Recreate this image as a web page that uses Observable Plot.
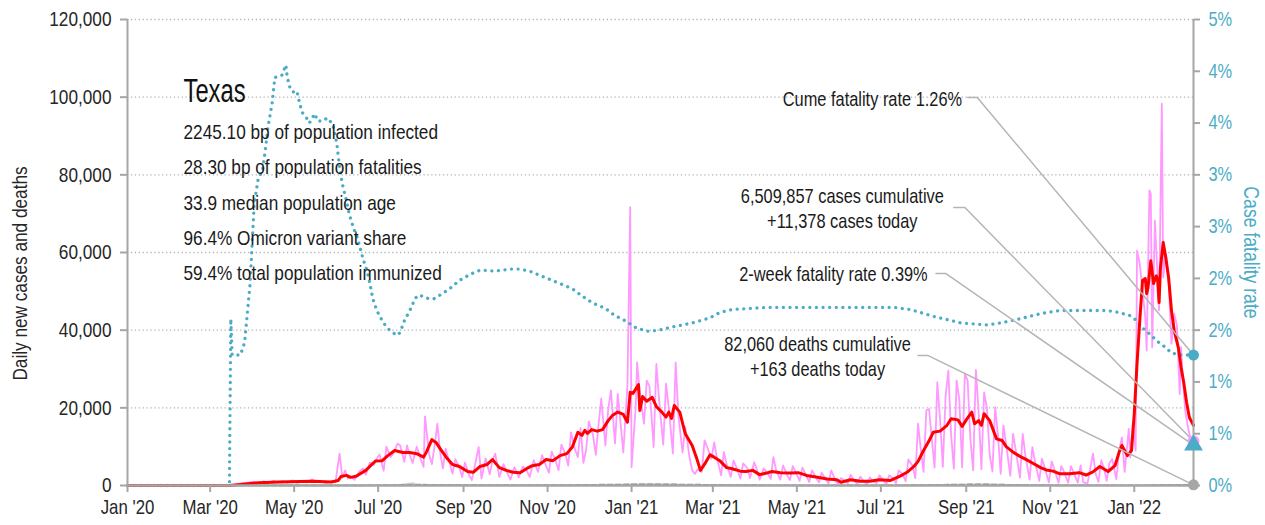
<!DOCTYPE html>
<html><head><meta charset="utf-8">
<script src="https://cdn.jsdelivr.net/npm/d3@7"></script>
<script src="https://cdn.jsdelivr.net/npm/@observablehq/plot@0.6"></script>
<style>
html,body{margin:0;padding:0;background:#fff;}
#chart{width:1265px;height:525px;overflow:hidden;}
</style></head>
<body><div id="chart"></div>
<script>
const FONT = "'Liberation Sans',Arial,sans-serif";
const NARROW = 0.82;      // horizontal squeeze to imitate a narrow face
const TITLE_NARROW = 0.7; // the state name uses an even narrower face
const TEAL = "#4bacc6", PINK = "#ff99ff", RED = "#ff0000", AXIS = "#a6a6a6";

// ---------- data ----------
const stateName = "Texas";
const infoLines = [
  "2245.10 bp of population infected",
  "28.30 bp of population fatalities",
  "33.9 median population age",
  "96.4% Omicron variant share",
  "59.4% total population immunized"
];
const yTicks = [0, 20000, 40000, 60000, 80000, 100000, 120000];
const rateTicks = [0, 0.5, 1, 1.5, 2, 2.5, 3, 3.5, 4, 4.5];
const rateTickLabels = ["0%","1%","1%","2%","2%","3%","3%","4%","4%","5%"];
const xTickDates = ["2020-01-01","2020-03-01","2020-05-01","2020-07-01","2020-09-01","2020-11-01",
  "2021-01-01","2021-03-01","2021-05-01","2021-07-01","2021-09-01","2021-11-01","2022-01-01"];
const startDate = "2020-01-01";
const lastDate = "2022-02-13";

const cumCases = 6509857, casesToday = 11378;
const cumDeaths = 82060, deathsToday = 163;
const cumeCfr = 1.26, twoWeekCfr = 0.39;

const casesDaily = [
["2020-01-01",0],["2020-03-04",0],["2020-03-12",20],["2020-03-18",150],["2020-03-22",400],["2020-03-26",700],["2020-03-29",800],
["2020-04-02",1000],["2020-04-05",600],["2020-04-09",1100],["2020-04-12",700],["2020-04-16",1200],["2020-04-19",800],["2020-04-23",1100],
["2020-04-26",700],["2020-04-30",1300],["2020-05-03",700],["2020-05-07",1200],["2020-05-10",800],["2020-05-14",1600],["2020-05-17",900],
["2020-05-21",1100],["2020-05-24",600],["2020-05-28",1100],["2020-05-31",900],["2020-06-03",8200],["2020-06-05",2000],["2020-06-07",3900],
["2020-06-09",1800],["2020-06-11",2300],["2020-06-14",1500],["2020-06-17",3500],["2020-06-20",4400],["2020-06-22",2800],["2020-06-25",5900],
["2020-06-28",5300],["2020-06-30",6900],["2020-07-02",8000],["2020-07-05",3800],["2020-07-07",10000],["2020-07-10",7300],["2020-07-12",8200],
["2020-07-15",10800],["2020-07-17",10300],["2020-07-20",6100],["2020-07-22",10300],["2020-07-24",7800],["2020-07-26",5800],["2020-07-29",10000],
["2020-08-01",6700],["2020-08-03",4800],["2020-08-04",17800],["2020-08-07",8000],["2020-08-09",5500],["2020-08-11",10200],["2020-08-13",15900],
["2020-08-15",8500],["2020-08-17",4400],["2020-08-19",9500],["2020-08-22",5600],["2020-08-24",3100],["2020-08-26",6800],["2020-08-29",4600],
["2020-08-31",2200],["2020-09-02",5900],["2020-09-05",2700],["2020-09-07",1400],["2020-09-09",4800],["2020-09-12",9900],["2020-09-14",1800],
["2020-09-17",7000],["2020-09-20",2900],["2020-09-22",6400],["2020-09-24",8200],["2020-09-27",2200],["2020-09-30",5500],["2020-10-03",3000],
["2020-10-05",1500],["2020-10-08",4700],["2020-10-11",2100],["2020-10-14",4900],["2020-10-17",3800],["2020-10-19",2200],["2020-10-22",6500],
["2020-10-25",3500],["2020-10-28",7800],["2020-10-31",5000],["2020-11-02",3300],["2020-11-04",8700],["2020-11-07",6200],["2020-11-09",3900],
["2020-11-11",10500],["2020-11-14",8100],["2020-11-16",5100],["2020-11-18",13700],["2020-11-21",9200],["2020-11-23",7300],["2020-11-25",14800],
["2020-11-27",5800],["2020-11-29",9200],["2020-12-01",16500],["2020-12-04",13000],["2020-12-06",7900],["2020-12-08",15600],["2020-12-10",22400],
["2020-12-13",10300],["2020-12-15",19500],["2020-12-17",24500],["2020-12-20",10800],["2020-12-22",23600],["2020-12-24",16000],["2020-12-26",8500],
["2020-12-29",26000],["2020-12-31",71700],["2021-01-01",4700],["2021-01-04",20200],["2021-01-05",31700],["2021-01-07",24000],["2021-01-10",15900],
["2021-01-12",27000],["2021-01-14",25500],["2021-01-17",9900],["2021-01-19",31300],["2021-01-21",22000],["2021-01-24",10500],["2021-01-26",26200],
["2021-01-28",20000],["2021-01-31",8200],["2021-02-02",31700],["2021-02-04",18000],["2021-02-07",8500],["2021-02-09",15000],["2021-02-12",7400],
["2021-02-14",3900],["2021-02-16",3000],["2021-02-18",4200],["2021-02-21",3500],["2021-02-23",11600],["2021-02-25",9800],["2021-02-28",6900],
["2021-03-02",11100],["2021-03-04",7000],["2021-03-07",2600],["2021-03-09",8600],["2021-03-11",5500],["2021-03-14",2200],["2021-03-16",6400],
["2021-03-18",4800],["2021-03-21",1800],["2021-03-23",5700],["2021-03-26",4500],["2021-03-28",1900],["2021-03-31",6000],["2021-04-02",4100],
["2021-04-04",1500],["2021-04-07",4400],["2021-04-10",3000],["2021-04-12",1700],["2021-04-14",7300],["2021-04-16",3900],["2021-04-19",1500],
["2021-04-21",5200],["2021-04-24",2600],["2021-04-26",1400],["2021-04-28",5000],["2021-05-01",2800],["2021-05-03",1200],["2021-05-05",4600],
["2021-05-08",2400],["2021-05-10",900],["2021-05-12",3900],["2021-05-15",2000],["2021-05-17",800],["2021-05-19",3300],["2021-05-22",1600],
["2021-05-24",500],["2021-05-26",3900],["2021-05-29",1200],["2021-05-31",400],["2021-06-02",1900],["2021-06-05",1200],["2021-06-07",500],
["2021-06-09",2800],["2021-06-12",1000],["2021-06-14",400],["2021-06-16",2300],["2021-06-19",900],["2021-06-21",400],["2021-06-23",2100],
["2021-06-26",900],["2021-06-28",600],["2021-06-30",2600],["2021-07-03",1200],["2021-07-05",300],["2021-07-07",2600],["2021-07-10",1800],
["2021-07-12",600],["2021-07-14",3900],["2021-07-17",2800],["2021-07-19",1100],["2021-07-21",6700],["2021-07-24",5000],["2021-07-26",1900],
["2021-07-28",15900],["2021-07-30",9300],["2021-08-01",3500],["2021-08-03",19300],["2021-08-05",19700],["2021-08-07",12000],["2021-08-09",4600],
["2021-08-11",26600],["2021-08-13",17000],["2021-08-15",4800],["2021-08-17",23000],["2021-08-19",29600],["2021-08-21",13000],["2021-08-23",4300],
["2021-08-25",27000],["2021-08-27",22000],["2021-08-29",4700],["2021-08-31",28800],["2021-09-02",27000],["2021-09-04",12000],["2021-09-06",3900],
["2021-09-08",29800],["2021-09-10",19000],["2021-09-12",4200],["2021-09-14",24000],["2021-09-16",20000],["2021-09-18",8000],["2021-09-20",3600],
["2021-09-22",20200],["2021-09-24",13000],["2021-09-26",3000],["2021-09-28",15500],["2021-09-30",10500],["2021-10-03",2500],["2021-10-05",13300],
["2021-10-07",9000],["2021-10-10",2000],["2021-10-12",13300],["2021-10-14",7500],["2021-10-17",1500],["2021-10-19",9900],["2021-10-21",6000],
["2021-10-24",1200],["2021-10-26",6900],["2021-10-28",4600],["2021-10-31",800],["2021-11-02",6200],["2021-11-04",4200],["2021-11-07",700],
["2021-11-09",5000],["2021-11-11",3500],["2021-11-14",700],["2021-11-16",5000],["2021-11-18",3300],["2021-11-21",700],["2021-11-23",5200],
["2021-11-25",800],["2021-11-28",500],["2021-12-02",8200],["2021-12-04",3000],["2021-12-06",900],["2021-12-08",6500],["2021-12-10",4500],
["2021-12-12",1200],["2021-12-14",5800],["2021-12-16",6800],["2021-12-19",1600],["2021-12-21",9000],["2021-12-23",12400],["2021-12-25",3500],
["2021-12-28",14600],["2021-12-29",7200],["2021-12-31",16000],["2022-01-02",9000],["2022-01-03",60500],["2022-01-05",57000],["2022-01-06",53600],
["2022-01-09",43300],["2022-01-10",34800],["2022-01-12",76000],["2022-01-13",75100],["2022-01-14",35600],["2022-01-16",68200],["2022-01-18",52800],
["2022-01-19",45100],["2022-01-21",98300],["2022-01-22",53600],["2022-01-24",59700],["2022-01-26",51900],["2022-01-28",36500],["2022-01-30",44200],
["2022-02-01",41200],["2022-02-03",23600],["2022-02-04",35600],["2022-02-05",28800],["2022-02-07",19300],["2022-02-09",15000],["2022-02-11",11600],
["2022-02-13",11378]
];

const casesAvg = [
["2020-01-01",0],["2020-03-05",0],["2020-03-15",10],["2020-03-25",300],["2020-04-05",700],["2020-04-20",900],["2020-05-05",1000],["2020-05-15",1100],
["2020-05-28",900],["2020-06-02",1300],["2020-06-04",2300],["2020-06-08",2600],["2020-06-11",2100],["2020-06-15",2400],["2020-06-22",3900],
["2020-06-29",6300],["2020-07-04",6400],["2020-07-08",7700],["2020-07-13",9000],["2020-07-19",8500],["2020-07-24",8500],["2020-07-29",8200],
["2020-08-03",7300],["2020-08-05",8600],["2020-08-09",11800],["2020-08-12",11100],["2020-08-15",9500],["2020-08-20",7000],["2020-08-24",5400],
["2020-08-29",4900],["2020-09-04",3600],["2020-09-08",3400],["2020-09-13",4900],["2020-09-18",5400],["2020-09-22",6700],["2020-09-27",4600],
["2020-10-02",3900],["2020-10-07",3400],["2020-10-12",3300],["2020-10-17",4400],["2020-10-21",5100],["2020-10-26",5400],["2020-10-31",6700],
["2020-11-05",6400],["2020-11-10",7700],["2020-11-15",8200],["2020-11-19",9900],["2020-11-23",13700],["2020-11-26",12900],["2020-11-28",14200],
["2020-11-30",13400],["2020-12-03",14400],["2020-12-07",14000],["2020-12-11",14400],["2020-12-15",16700],["2020-12-18",18000],["2020-12-22",18900],
["2020-12-26",18300],["2020-12-29",16300],["2020-12-31",24000],["2021-01-02",23700],["2021-01-06",26000],["2021-01-07",19300],["2021-01-09",22900],
["2021-01-12",21700],["2021-01-16",22700],["2021-01-19",20300],["2021-01-23",18900],["2021-01-26",17600],["2021-01-28",18900],["2021-01-30",17300],
["2021-02-01",20600],["2021-02-05",18900],["2021-02-09",13300],["2021-02-14",10300],["2021-02-17",7300],["2021-02-20",3900],["2021-02-23",5500],
["2021-02-27",7900],["2021-03-02",7300],["2021-03-06",6400],["2021-03-11",4600],["2021-03-15",4300],["2021-03-21",3700],["2021-03-25",3600],
["2021-03-30",3900],["2021-04-04",2800],["2021-04-09",3200],["2021-04-13",3600],["2021-04-19",3300],["2021-04-26",3200],["2021-05-02",3300],
["2021-05-08",2600],["2021-05-16",2100],["2021-05-23",1700],["2021-05-30",1500],["2021-06-02",850],["2021-06-09",1500],["2021-06-16",1100],
["2021-06-23",1100],["2021-06-30",1500],["2021-07-08",1300],["2021-07-15",2400],["2021-07-20",3400],["2021-07-25",4900],["2021-07-28",6200],
["2021-08-01",9000],["2021-08-05",11500],["2021-08-08",13700],["2021-08-13",14000],["2021-08-18",15500],["2021-08-21",17200],["2021-08-26",16900],
["2021-08-29",15200],["2021-09-01",16900],["2021-09-05",18900],["2021-09-07",15900],["2021-09-10",16700],["2021-09-12",15500],["2021-09-14",18500],
["2021-09-18",16700],["2021-09-23",12000],["2021-09-27",11600],["2021-09-30",10000],["2021-10-05",8600],["2021-10-10",7500],["2021-10-15",6600],
["2021-10-20",5600],["2021-10-25",4600],["2021-10-29",4000],["2021-11-03",3700],["2021-11-08",3000],["2021-11-15",3000],["2021-11-22",3300],
["2021-11-27",2700],["2021-12-02",3500],["2021-12-07",4900],["2021-12-13",3600],["2021-12-18",5100],["2021-12-21",8600],["2021-12-23",10300],
["2021-12-27",7700],["2021-12-30",9000],["2022-01-01",18500],["2022-01-03",31400],["2022-01-05",42500],["2022-01-07",52800],["2022-01-09",53300],
["2022-01-10",49400],["2022-01-11",51000],["2022-01-13",57900],["2022-01-15",52000],["2022-01-17",54000],["2022-01-18",52800],["2022-01-19",47100],
["2022-01-20",56100],["2022-01-22",62600],["2022-01-24",58400],["2022-01-26",53300],["2022-01-28",45100],["2022-01-30",39900],["2022-02-02",35500],
["2022-02-04",30400],["2022-02-06",26300],["2022-02-08",21400],["2022-02-10",17500],["2022-02-13",15500]
];

// case fatality rate, percent (right axis)
const cfrPct = [
["2020-01-01",0],["2020-03-15",0],["2020-03-16",1.61],["2020-03-17",1.26],["2020-03-23",1.26],["2020-03-26",1.38],["2020-03-30",1.95],
["2020-04-01",2.46],["2020-04-02",2.72],["2020-04-05",2.97],["2020-04-08",3.04],["2020-04-10",3.23],["2020-04-12",3.46],["2020-04-15",3.69],
["2020-04-17",3.94],["2020-04-22",3.96],["2020-04-25",4.06],["2020-04-26",3.94],["2020-04-28",3.84],["2020-04-30",3.80],["2020-05-03",3.81],
["2020-05-05",3.69],["2020-05-07",3.60],["2020-05-10",3.55],["2020-05-12",3.50],["2020-05-16",3.59],["2020-05-18",3.52],["2020-05-22",3.52],
["2020-05-25",3.55],["2020-05-29",3.49],["2020-06-01",3.30],["2020-06-03",3.07],["2020-06-05",2.91],["2020-06-08",2.75],["2020-06-10",2.62],
["2020-06-13",2.49],["2020-06-16",2.39],["2020-06-18",2.29],["2020-06-20",2.19],["2020-06-23",2.07],["2020-06-25",1.95],["2020-06-27",1.81],
["2020-06-30",1.69],["2020-07-04",1.59],["2020-07-07",1.53],["2020-07-11",1.48],["2020-07-15",1.45],["2020-07-17",1.48],["2020-07-20",1.59],
["2020-07-24",1.69],["2020-07-28",1.81],["2020-07-31",1.84],["2020-08-05",1.81],["2020-08-10",1.80],["2020-08-15",1.84],["2020-08-22",1.90],
["2020-08-29",1.98],["2020-09-06",2.04],["2020-09-13",2.08],["2020-09-24",2.07],["2020-10-05",2.09],["2020-10-12",2.09],["2020-10-19",2.07],
["2020-10-30",2.01],["2020-11-10",1.95],["2020-11-19",1.90],["2020-11-26",1.83],["2020-12-04",1.76],["2020-12-13",1.71],["2020-12-20",1.64],
["2020-12-29",1.58],["2021-01-03",1.53],["2021-01-12",1.49],["2021-01-21",1.50],["2021-01-30",1.53],["2021-02-07",1.55],["2021-02-17",1.58],
["2021-02-27",1.62],["2021-03-06",1.67],["2021-03-15",1.70],["2021-03-28",1.71],["2021-04-09",1.72],["2021-05-03",1.72],["2021-05-27",1.72],
["2021-06-21",1.72],["2021-07-10",1.72],["2021-07-22",1.70],["2021-07-30",1.67],["2021-08-09",1.63],["2021-08-19",1.60],["2021-08-28",1.57],
["2021-09-06",1.56],["2021-09-16",1.55],["2021-09-26",1.57],["2021-10-10",1.61],["2021-10-25",1.66],["2021-11-08",1.69],["2021-11-22",1.69],
["2021-12-12",1.69],["2021-12-21",1.67],["2021-12-29",1.64],["2022-01-03",1.59],["2022-01-06",1.53],["2022-01-10",1.49],["2022-01-14",1.44],
["2022-01-19",1.38],["2022-01-24",1.33],["2022-01-28",1.28],["2022-02-03",1.26],["2022-02-13",1.26]
];

const deathsDaily = [
["2020-01-01",0],["2020-03-15",0],["2020-04-15",50],["2020-05-15",30],["2020-06-15",40],["2020-07-15",150],["2020-07-27",675],["2020-07-28",250],
["2020-08-15",220],["2020-09-15",100],["2020-10-15",90],["2020-11-15",130],["2020-12-15",250],["2021-01-15",400],["2021-02-15",150],
["2021-03-15",200],["2021-04-15",60],["2021-05-15",30],["2021-06-15",20],["2021-07-15",30],["2021-08-15",250],["2021-09-15",380],
["2021-10-15",150],["2021-11-15",40],["2021-12-15",60],["2022-01-15",100],["2022-01-25",250],["2022-02-13",163]
];
const deathsAvg = [
["2020-01-01",0],["2020-03-15",0],["2020-04-15",40],["2020-05-15",30],["2020-06-15",30],["2020-07-10",100],["2020-07-27",230],["2020-08-10",200],
["2020-09-10",120],["2020-10-10",80],["2020-11-10",110],["2020-12-10",220],["2021-01-15",330],["2021-02-10",260],["2021-03-10",150],
["2021-04-10",60],["2021-05-10",40],["2021-06-10",30],["2021-07-10",25],["2021-08-15",200],["2021-09-10",320],["2021-10-10",150],
["2021-11-10",60],["2021-12-10",50],["2022-01-10",80],["2022-01-30",190],["2022-02-13",170]
];

// ---------- build ----------
const Y_MAX = 120000, RATE_MAX = 4.5;
const rateToY = v => v / RATE_MAX * Y_MAX;
const parse = d3.utcParse("%Y-%m-%d");
const rows = arr => arr.map(([d, v]) => ({date: parse(d), value: v}));
const end = parse(lastDate);
const fmt = d3.format(",");

// annotation placement (text anchor dates / heights in chart units)
const annotations = [
  {text: `Cume fatality rate ${cumeCfr.toFixed(2)}%`, tx: "2021-08-29", ty: 99900, anchor: "end",
   l0: "2021-09-02", l1: "2021-09-09", target: rateToY(cumeCfr)},
  {text: `${fmt(cumCases)} cases cumulative\n+${fmt(casesToday)} cases today`, tx: "2021-06-03", ty: 71600, anchor: "middle",
   l0: "2021-08-23", l1: "2021-08-31", target: casesToday},
  {text: `2-week fatality rate ${twoWeekCfr.toFixed(2)}%`, tx: "2021-08-04", ty: 54600, anchor: "end",
   l0: "2021-08-10", l1: "2021-08-17", target: rateToY(twoWeekCfr)},
  {text: `${fmt(cumDeaths)} deaths cumulative\n+${fmt(deathsToday)} deaths today`, tx: "2021-05-16", ty: 33500, anchor: "middle",
   l0: "2021-07-28", l1: "2021-08-04", target: deathsToday}
];
const leaderRows = annotations.flatMap((a, i) => [
  {id: i, date: parse(a.l0), value: a.ty},
  {id: i, date: parse(a.l1), value: a.ty},
  {id: i, date: end, value: a.target}
]);
const annText = anchor => Plot.text(annotations.filter(a => a.anchor === anchor),
  {x: d => parse(d.tx), y: "ty", text: "text", textAnchor: anchor,
   lineAnchor: "middle", lineHeight: 1.25, fontSize: 20, fill: "#1a1a1a"});

const chart = Plot.plot({
  width: 1265, height: 525,
  marginLeft: 127, marginRight: 72, marginTop: 19, marginBottom: 40,
  style: {fontFamily: FONT, fontSize: "20px", background: "#fff", overflow: "visible"},
  x: {type: "utc", domain: [parse(startDate), end]},
  y: {domain: [0, Y_MAX]},
  marks: [
    Plot.gridY(yTicks.filter(d => d > 0), {stroke: "#b4b4b4", strokeOpacity: 1, strokeWidth: 1.3, strokeDasharray: "1.3,2.6"}),
    Plot.line(rows(deathsDaily), {x: "date", y: "value", stroke: "#cfcfcf", strokeWidth: 1.2}),
    Plot.line(rows(casesDaily), {x: "date", y: "value", stroke: PINK, strokeWidth: 1.8}),
    Plot.line(rows(cfrPct), {x: "date", y: d => rateToY(d.value), stroke: TEAL, strokeWidth: 3.3,
      strokeDasharray: "0.01,6.6", strokeLinecap: "round", strokeLinejoin: "round"}),
    Plot.line(rows(casesAvg), {x: "date", y: "value", stroke: RED, strokeWidth: 3}),
    Plot.line(rows(deathsAvg), {x: "date", y: "value", stroke: "#8a8a8a", strokeWidth: 1.6, strokeDasharray: "5,3"}),
    // axis lines
    Plot.ruleY([0], {stroke: AXIS, strokeWidth: 2.5}),
    Plot.ruleX([parse(startDate), end], {stroke: AXIS, strokeWidth: 2}),
    // leader lines
    Plot.line(leaderRows, {x: "date", y: "value", z: "id", stroke: "#b5b5b5", strokeWidth: 1.5}),
    // end markers
    Plot.dot([{date: end, value: deathsToday}], {x: "date", y: "value", r: 5.5, fill: "#a6a6a6", stroke: null}),
    Plot.dot([{date: end, value: rateToY(cumeCfr)}], {x: "date", y: "value", r: 5.5, fill: TEAL, stroke: null}),
    Plot.dot([{date: end, value: casesToday}], {x: "date", y: "value", r: 6, fill: PINK, stroke: null}),
    Plot.dot([{date: end, value: rateToY(twoWeekCfr)}], {x: "date", y: "value", r: 7, symbol: "triangle", fill: TEAL, stroke: null}),
    // axes
    Plot.axisY({ticks: yTicks, tickFormat: fmt, tickSize: 7, tickPadding: 9, stroke: AXIS, fill: "#262626",
      label: null, strokeWidth: 2, fontSize: 21}),
    Plot.axisY({anchor: "right", ticks: rateTicks.map(rateToY), tickFormat: (d, i) => rateTickLabels[i],
      tickSize: 6, tickPadding: 9, stroke: AXIS, fill: TEAL, label: null, strokeWidth: 2, fontSize: 20}),
    Plot.axisX({ticks: xTickDates.map(parse), tickFormat: d3.utcFormat("%b '%y"), tickSize: 7, tickPadding: 7,
      stroke: AXIS, fill: "#262626", label: null, strokeWidth: 2, fontSize: 20.5}),
    // axis titles
    Plot.text(["Daily new cases and deaths"], {text: d => d, frameAnchor: "left", rotate: -90, dx: -107, dy: 21,
      fontSize: 21, fill: "#262626", textAnchor: "middle"}),
    Plot.text(["Case fatality rate"], {text: d => d, frameAnchor: "right", rotate: 90, dx: 57, dy: 0,
      fontSize: 21.5, fill: TEAL, textAnchor: "middle"}),
    // info block
    Plot.text([stateName], {text: d => d, frameAnchor: "top-left", dx: 56, dy: 58, lineAnchor: "top",
      fontSize: 34, fill: "#111", textAnchor: "start"}),
    Plot.text([infoLines.join("\n")], {text: d => d, frameAnchor: "top-left", dx: 56, dy: 95, lineAnchor: "top",
      lineHeight: 1.67, fontSize: 21, fill: "#1a1a1a", textAnchor: "start"}),
    // annotations
    annText("end"),
    annText("middle")
  ]
});
// squeeze every label horizontally around its own anchor point
d3.select(chart).selectAll("text").each(function() {
  const t = this.getAttribute("transform");
  const s = this.textContent === stateName ? TITLE_NARROW : NARROW;
  if (t) this.setAttribute("transform", `${t} scale(${s},1)`);
});
document.getElementById("chart").appendChild(chart);
</script>
</body></html>
